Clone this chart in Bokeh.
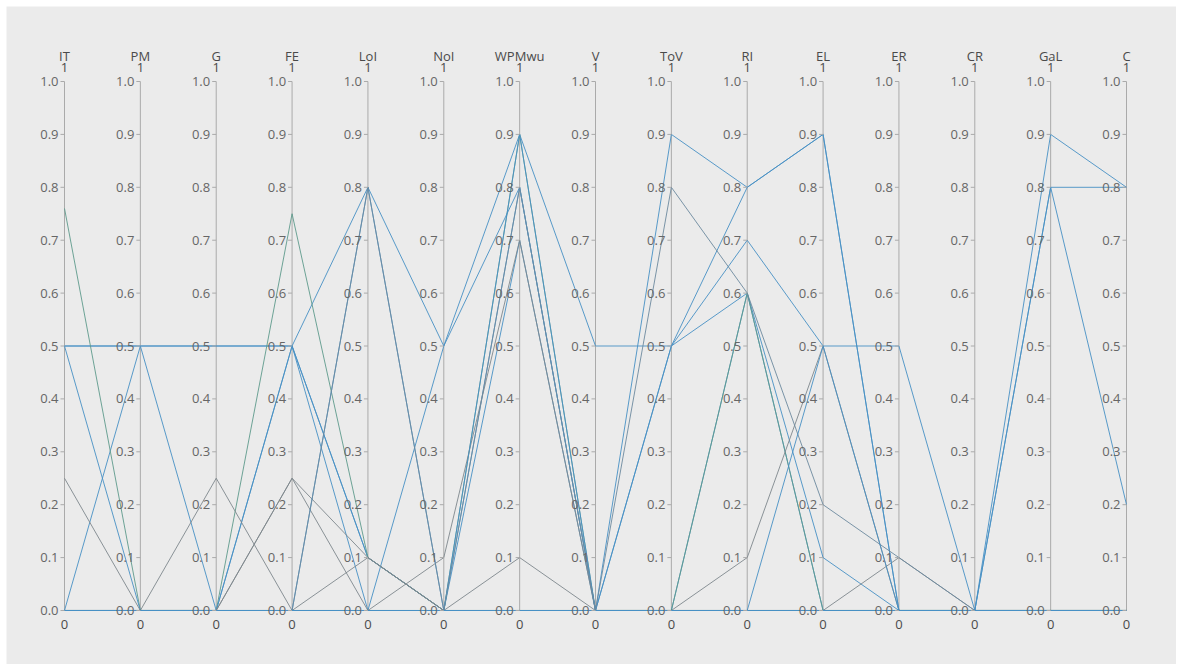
from bokeh.plotting import figure
from bokeh.models import Range1d, ColumnDataSource
from bokeh.embed import file_html
from bokeh.resources import INLINE
from bokeh.core.properties import value

# ---- data -----------------------------------------------------------
dimensions = ["IT", "PM", "G", "FE", "LoI", "NoI", "WPMwu", "V", "ToV",
              "RI", "EL", "ER", "CR", "GaL", "C"]
tick_values = [0.0, 0.1, 0.2, 0.3, 0.4, 0.5, 0.6, 0.7, 0.8, 0.9, 1.0]
tick_labels = ["0.0", "0.1", "0.2", "0.3", "0.4", "0.5", "0.6", "0.7", "0.8", "0.9", "1.0"]
range_max_label = "1"
range_min_label = "0"

IT    = [0.5, 0.5, 0.0, 0.76, 0.5, 0.25, 0.0, 0.0, 0.0, 0.0, 0.0, 0.0, 0.0]
PM    = [0.5, 0.5, 0.5, 0.0, 0.0, 0.0, 0.0, 0.0, 0.0, 0.0, 0.0, 0.0, 0.0]
G     = [0.5, 0.5, 0.0, 0.0, 0.0, 0.25, 0.0, 0.0, 0.0, 0.0, 0.0, 0.0, 0.0]
FE    = [0.5, 0.5, 0.5, 0.75, 0.5, 0.0, 0.25, 0.25, 0.0, 0.0, 0.0, 0.0, 0.0]
LoI   = [0.8, 0.1, 0.1, 0.1, 0.0, 0.1, 0.1, 0.0, 0.8, 0.8, 0.0, 0.0, 0.0]
NoI   = [0.5, 0.0, 0.0, 0.0, 0.5, 0.0, 0.0, 0.1, 0.0, 0.0, 0.0, 0.0, 0.0]
WPMwu = [0.9, 0.8, 0.7, 0.9, 0.8, 0.1, 0.0, 0.7, 0.9, 0.8, 0.0, 0.0, 0.0]
V     = [0.5, 0.0, 0.0, 0.0, 0.0, 0.0, 0.0, 0.0, 0.0, 0.0, 0.0, 0.0, 0.0]
ToV   = [0.5, 0.5, 0.0, 0.0, 0.5, 0.0, 0.0, 0.0, 0.9, 0.8, 0.0, 0.0, 0.0]
RI    = [0.8, 0.6, 0.6, 0.6, 0.7, 0.1, 0.0, 0.0, 0.8, 0.6, 0.0, 0.0, 0.0]
EL    = [0.9, 0.1, 0.0, 0.0, 0.5, 0.5, 0.0, 0.0, 0.9, 0.2, 0.5, 0.0, 0.0]
ER    = [0.0, 0.0, 0.0, 0.0, 0.5, 0.0, 0.0, 0.1, 0.0, 0.1, 0.0, 0.0, 0.0]
CR    = [0.0, 0.0, 0.0, 0.0, 0.0, 0.0, 0.0, 0.0, 0.0, 0.0, 0.0, 0.0, 0.0]
GaL   = [0.8, 0.0, 0.0, 0.0, 0.8, 0.0, 0.0, 0.0, 0.9, 0.0, 0.0, 0.0, 0.0]
C     = [0.8, 0.0, 0.0, 0.0, 0.2, 0.0, 0.0, 0.0, 0.8, 0.0, 0.0, 0.0, 0.0]

columns = [IT, PM, G, FE, LoI, NoI, WPMwu, V, ToV, RI, EL, ER, CR, GaL, C]

BLUE = "#4790c4"
GREY = "#7e878d"
line_colors = [BLUE, BLUE, BLUE, "#5e9a8c", BLUE, GREY, GREY, GREY,
               BLUE, "#6d8a9e", BLUE, BLUE, BLUE]

# ---- figure ---------------------------------------------------------
W, H = 1176, 664
BG = "#ebebeb"
p = figure(width=W, height=H, output_backend="svg", toolbar_location=None,
           x_range=Range1d(-0.7646, 14.659), y_range=Range1d(-0.1021, 1.1418),
           min_border_left=6, min_border_top=6, min_border_right=0,
           min_border_bottom=0,
           background_fill_color=BG, border_fill_color="white",
           outline_line_color=None)
p.axis.visible = False
p.grid.visible = False

n = len(dimensions)
xs_idx = list(range(n))

# axis lines
p.segment(x0=xs_idx, y0=[0.0] * n, x1=xs_idx, y1=[1.0] * n,
          line_color="#aaaaaa", line_width=1)

# polylines
n_rec = len(IT)
xs = [xs_idx for _ in range(n_rec)]
ys = [[col[r] for col in columns] for r in range(n_rec)]
src = ColumnDataSource(dict(xs=xs, ys=ys, color=line_colors))
p.multi_line(xs="xs", ys="ys", line_color="color", line_width=1.0,
             line_alpha=0.9, source=src)

# ticks and tick labels
tx, ty, tl = [], [], []
for i in xs_idx:
    for v, lab in zip(tick_values, tick_labels):
        tx.append(i)
        ty.append(v)
        tl.append(lab)
tick_len = 4 / ((1126 - 64) / 14)
p.segment(x0=[x - tick_len for x in tx], y0=ty, x1=tx, y1=ty,
          line_color="#aaaaaa", line_width=1)
p.text(x=tx, y=ty, text=tl, x_offset=-6, text_align="right",
       text_baseline="middle", text_font=value("Open Sans"),
       text_font_size="13px", text_color="#666666")

# titles and range labels
p.text(x=xs_idx, y=[1.0] * n, text=dimensions, y_offset=-26,
       text_align="center", text_baseline="middle",
       text_font=value("Open Sans"), text_font_size="13px",
       text_color="#4a4a4a")
p.text(x=xs_idx, y=[1.0] * n, text=[range_max_label] * n, y_offset=-14,
       text_align="center", text_baseline="middle",
       text_font=value("Open Sans"), text_font_size="13px",
       text_color="#4a4a4a")
p.text(x=xs_idx, y=[0.0] * n, text=[range_min_label] * n, y_offset=14,
       text_align="center", text_baseline="middle",
       text_font=value("Open Sans"), text_font_size="13px",
       text_color="#4a4a4a")

open("out.html", "w").write(file_html(p, INLINE))
